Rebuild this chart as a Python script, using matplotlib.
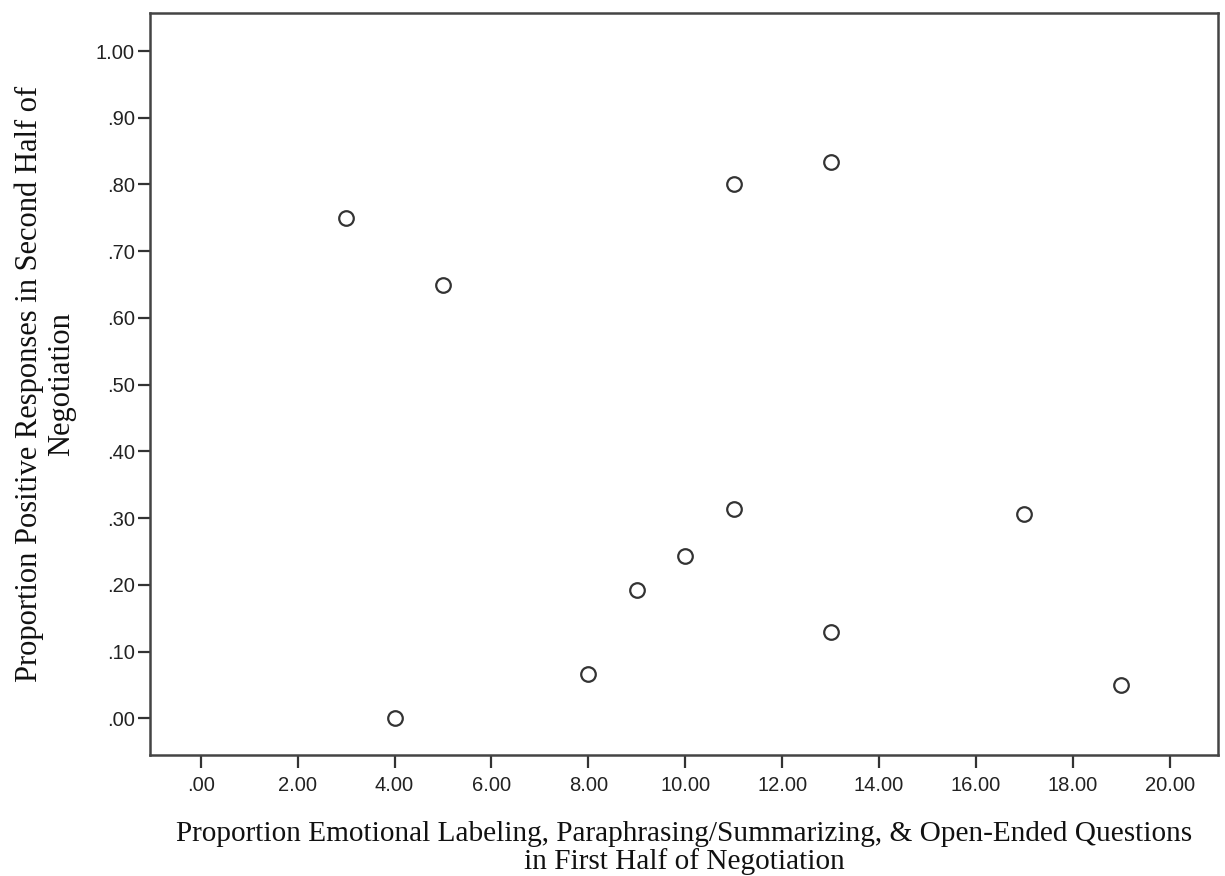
import matplotlib.pyplot as plt

# first-half technique use vs. second-half positive responses
x_vals = [3, 5, 11, 13, 4, 8, 9, 10, 11, 13, 17, 19]
y_vals = [0.75, 0.65, 0.80, 0.833, 0.0, 0.067, 0.192, 0.243, 0.314, 0.129, 0.306, 0.05]

x_ticks = [0, 2, 4, 6, 8, 10, 12, 14, 16, 18, 20]
y_ticks = [0.0, 0.1, 0.2, 0.3, 0.4, 0.5, 0.6, 0.7, 0.8, 0.9, 1.0]

x_label = ("Proportion Emotional Labeling, Paraphrasing/Summarizing, & Open-Ended Questions\n"
           "in First Half of Negotiation")
y_label = "Proportion Positive Responses in Second Half of\nNegotiation"


def fmt(v):
    s = "%.2f" % v
    return s[1:] if s.startswith("0") else s


def main():
    fig = plt.figure(figsize=(12.25, 8.76), dpi=100)
    ax = fig.add_axes([0.1224, 0.1381, 0.8719, 0.8471])

    ax.scatter(x_vals, y_vals, s=110, facecolors="white", edgecolors="#333333",
               linewidths=1.6, zorder=3)

    ax.set_xlim(-1.05, 21.0)
    ax.set_ylim(-0.055, 1.057)

    ax.set_xticks(x_ticks)
    ax.set_xticklabels([fmt(v) for v in x_ticks])
    ax.set_yticks(y_ticks)
    ax.set_yticklabels([fmt(v) for v in y_ticks])

    ax.tick_params(direction="out", length=9, width=1.6, color="#333333",
                   labelsize=14.5, labelcolor="#222222")
    ax.tick_params(axis="x", pad=6)
    ax.tick_params(axis="y", pad=2)
    for lab in ax.get_xticklabels() + ax.get_yticklabels():
        lab.set_family("Liberation Sans")

    for sp in ax.spines.values():
        sp.set_linewidth(1.8)
        sp.set_color("#444444")

    ax.set_xlabel(x_label, family="Liberation Serif", fontsize=21.1, labelpad=19,
                  linespacing=1.05, color="#111111")
    ax.set_ylabel(y_label, family="Liberation Serif", fontsize=22, labelpad=14,
                  linespacing=1.15, color="#111111")

    fig.savefig("out.png", dpi=100)


if __name__ == "__main__":
    main()
